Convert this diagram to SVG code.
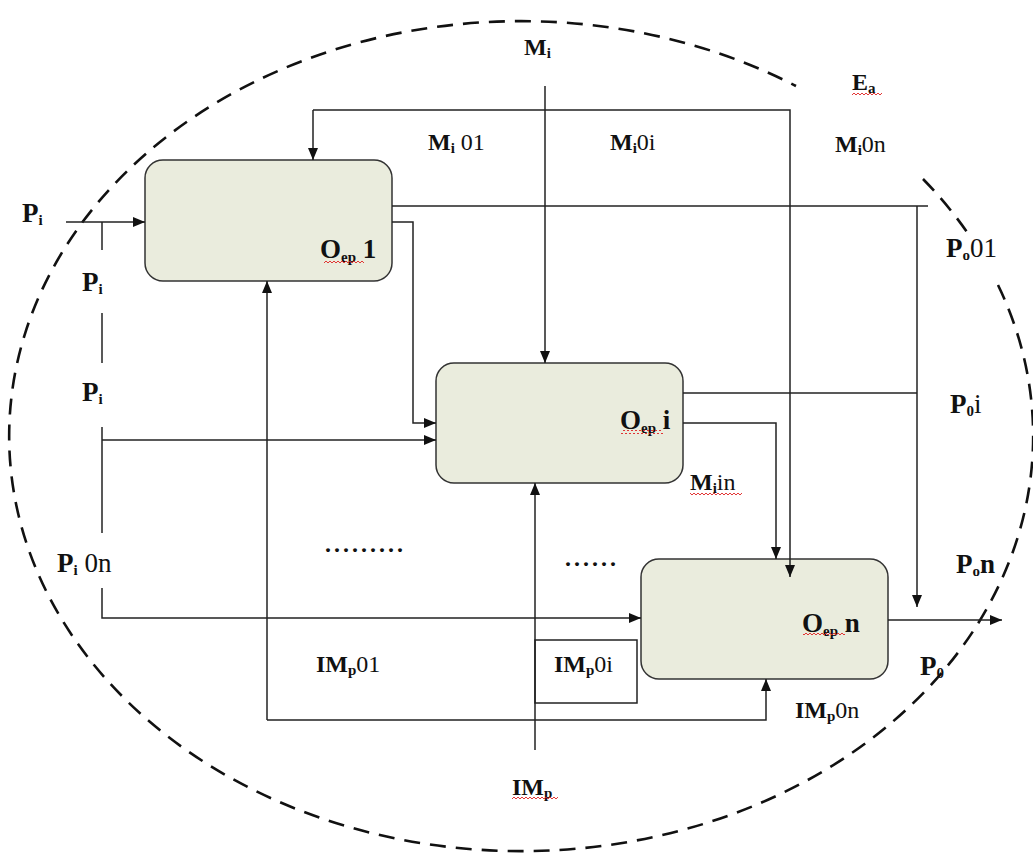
<svg xmlns="http://www.w3.org/2000/svg" width="1033" height="853" viewBox="0 0 1033 853">
<style>
.node{fill:#eaecdd;stroke:#333;stroke-width:1.5}
.ln{fill:none;stroke:#222;stroke-width:1.5}
.arr{marker-end:url(#ah)}
.t{font-family:"Liberation Serif","Times New Roman",serif;font-size:24px;fill:#111}
.b{font-weight:bold}
.n{font-weight:normal}
.big{font-size:27px}
.sub{font-size:15px}
.wavy{fill:url(#squig)}
</style>
<defs>
<marker id="ah" markerUnits="userSpaceOnUse" markerWidth="12" markerHeight="10" refX="12" refY="5" orient="auto">
<path d="M0,0 L12,5 L0,10 z" fill="#111"/>
</marker>
<pattern id="squig" patternUnits="userSpaceOnUse" width="4" height="4">
<path d="M0,3 L2,1 L4,3" fill="none" stroke="#e02020" stroke-width="0.9"/>
</pattern>
</defs>

<path id="boundary" d="M923,179 A512,415 0 0 1 969,235 M998,285 A512,415 0 1 1 796,86" fill="none" stroke="#111" stroke-width="2.6" stroke-dasharray="16,10"/>

<g id="node-1">
<rect class="node" x="145" y="160" width="247" height="121" rx="18"/>
<text class="t b big" x="320" y="258">O<tspan class="sub" dy="4">ep</tspan><tspan dy="-4"> 1</tspan></text>
<rect class="wavy" x="324" y="259" width="40" height="4"/>
</g>
<g id="node-i">
<rect class="node" x="436" y="363" width="247" height="120" rx="18"/>
<text class="t b big" x="620" y="429">O<tspan class="sub" dy="4">ep</tspan><tspan dy="-4"> i</tspan></text>
<rect class="wavy" x="621" y="430" width="42" height="4"/>
</g>
<g id="node-n">
<rect class="node" x="641" y="559" width="247" height="120" rx="18"/>
<text class="t b big" x="802" y="632">O<tspan class="sub" dy="4">ep</tspan><tspan dy="-4"> n</tspan></text>
<rect class="wavy" x="803" y="633" width="42" height="4"/>
</g>

<g id="connectors">
<path class="ln arr" d="M66,222 H145"/>
<path class="ln" d="M102,222 V250"/>
<path class="ln" d="M102,313 V363"/>
<path class="ln" d="M102,427 V533"/>
<path class="ln arr" d="M102,440 H436"/>
<path class="ln arr" d="M102,588 V618 H641"/>
<path class="ln" d="M392,206 H928"/>
<path class="ln arr" d="M917,206 V607"/>
<path class="ln" d="M683,393 H917"/>
<path class="ln arr" d="M392,222 H413 V423 H436"/>
<path class="ln arr" d="M545,86 V363"/>
<path class="ln arr" d="M313,110 V160"/>
<path class="ln arr" d="M313,110 H790 V577"/>
<path class="ln arr" d="M683,423 H776 V559"/>
<path class="ln arr" d="M888,620 H1002"/>
<path class="ln arr" d="M535,750 V483"/>
<rect class="ln" x="535" y="640" width="102" height="63"/>
<path class="ln arr" d="M267,720 V281"/>
<path class="ln arr" d="M267,720 H766 V679"/>
</g>

<g id="labels">
<text class="t b" x="524" y="55">M<tspan class="sub" dy="3">i</tspan></text>
<text class="t b" x="852" y="90">E<tspan class="sub" dy="3">a</tspan></text>
<rect class="wavy" x="852" y="92" width="30" height="4"/>
<text class="t b" x="428" y="150">M<tspan class="sub" dy="3">i</tspan><tspan class="n" dy="-3"> 01</tspan></text>
<text class="t b" x="610" y="150">M<tspan class="sub" dy="3">i</tspan><tspan class="n" dy="-3">0i</tspan></text>
<text class="t b" x="835" y="152">M<tspan class="sub" dy="3">i</tspan><tspan class="n" dy="-3">0n</tspan></text>
<text class="t b big" x="22" y="222">P<tspan class="sub" dy="3">i</tspan></text>
<text class="t b big" x="82" y="291">P<tspan class="sub" dy="3">i</tspan></text>
<text class="t b big" x="82" y="401">P<tspan class="sub" dy="3">i</tspan></text>
<text class="t b big" x="57" y="572">P<tspan class="sub" dy="3">i</tspan><tspan class="n" dy="-3"> 0n</tspan></text>
<text class="t b big" x="946" y="257">P<tspan class="sub" dy="3">o</tspan><tspan class="n" dy="-3">01</tspan></text>
<text class="t b big" x="950" y="413">P<tspan class="sub" dy="3">0</tspan><tspan class="n" dy="-3">i</tspan></text>
<text class="t b" x="690" y="490">M<tspan class="sub" dy="3">i</tspan><tspan class="n" dy="-3">in</tspan></text>
<rect class="wavy" x="690" y="492" width="52" height="4"/>
<text class="t b" x="325" y="552" letter-spacing="3">.........</text>
<text class="t b" x="565" y="566" letter-spacing="3">......</text>
<text class="t b big" x="956" y="573">P<tspan class="sub" dy="3">o</tspan><tspan dy="-3">n</tspan></text>
<text class="t b big" x="920" y="675">P<tspan class="sub" dy="3">0</tspan></text>
<text class="t b" x="316" y="672">IM<tspan class="sub" dy="3">p</tspan><tspan class="n" dy="-3">01</tspan></text>
<text class="t b" x="554" y="672">IM<tspan class="sub" dy="3">p</tspan><tspan class="n" dy="-3">0i</tspan></text>
<text class="t b" x="795" y="718">IM<tspan class="sub" dy="3">p</tspan><tspan class="n" dy="-3">0n</tspan></text>
<text class="t b" x="512" y="795">IM<tspan class="sub" dy="3">p</tspan></text>
<rect class="wavy" x="512" y="797" width="46" height="4"/>
</g>
</svg>
